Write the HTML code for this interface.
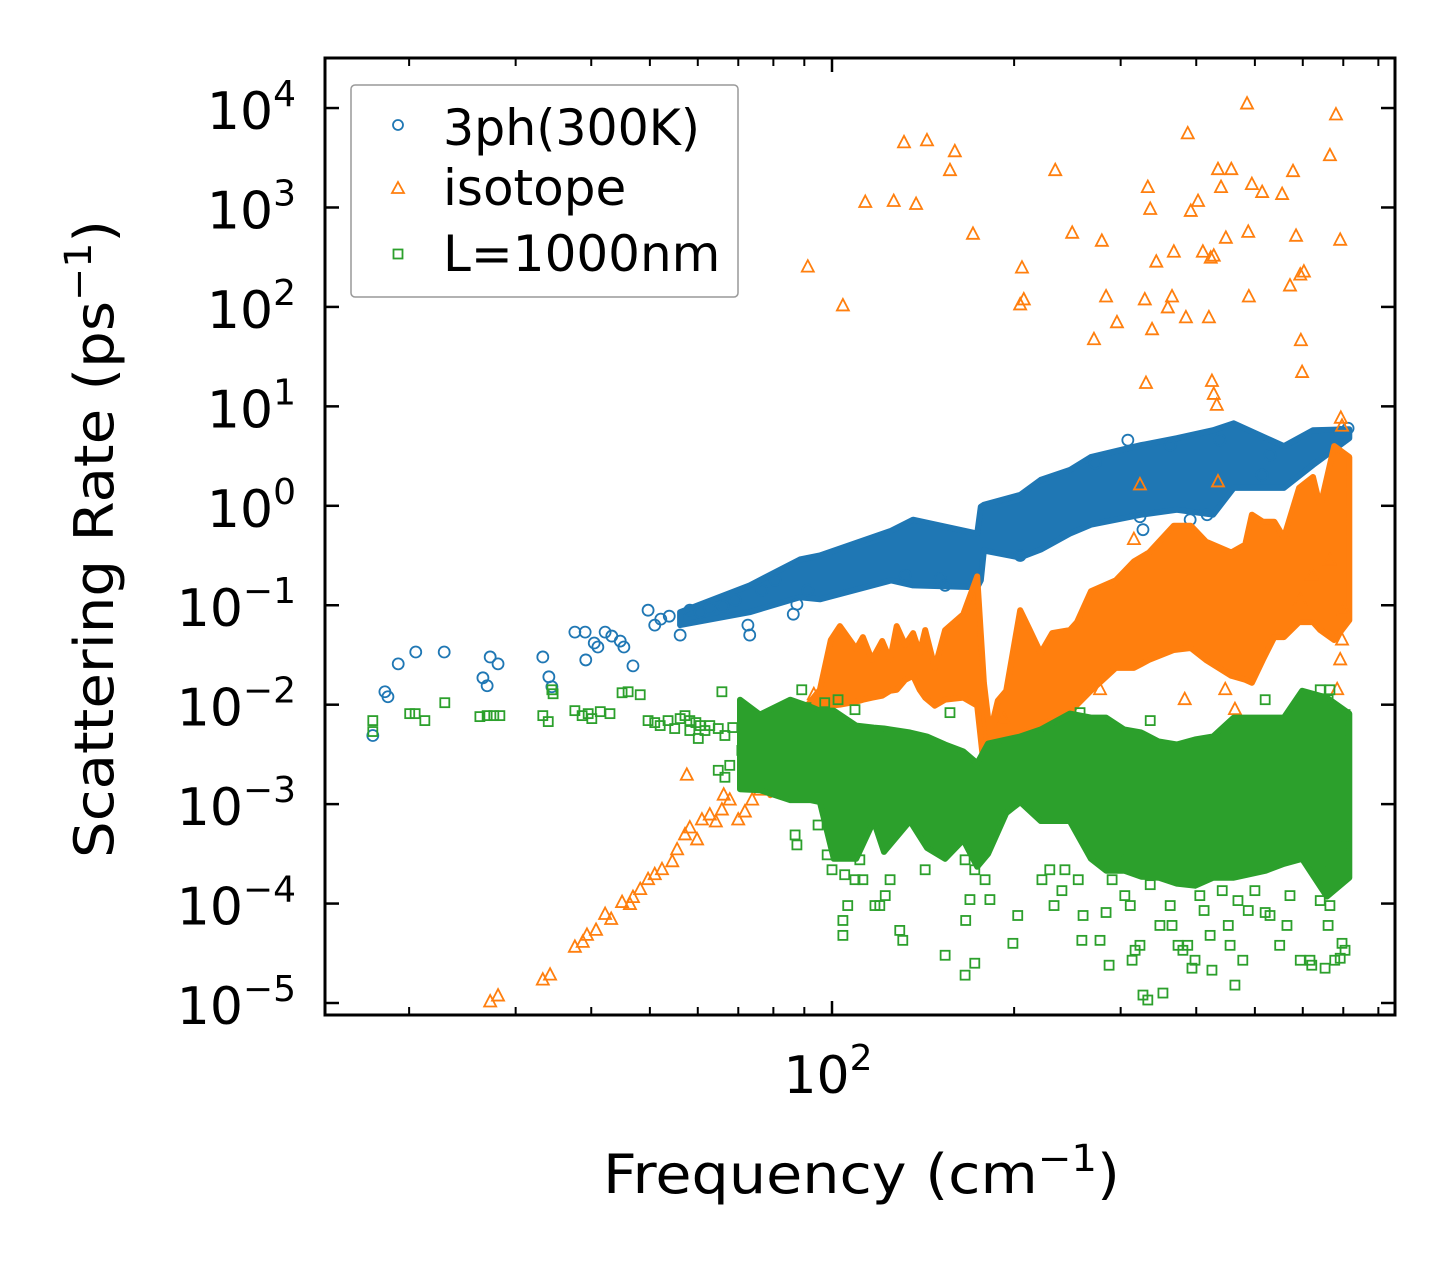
<!DOCTYPE html>
<html><head><meta charset="utf-8"><style>
html,body{margin:0;padding:0;background:#fff;}
svg{display:block;font-family:"DejaVu Sans","Liberation Sans",sans-serif;}
</style></head>
<body>
<svg id="chart" width="1455" height="1265" viewBox="0 0 1455 1265" xmlns="http://www.w3.org/2000/svg">
<rect x="0" y="0" width="1455" height="1265" fill="#fff"/>
<g id="bands"></g>
<g id="marks"></g>
<g id="axes"></g>
<text x="603" y="1193" font-size="54" textLength="517" lengthAdjust="spacingAndGlyphs">Frequency (cm<tspan dy="-22" font-size="37">−1</tspan><tspan dy="22">)</tspan></text>
<text transform="translate(113,858) rotate(-90)" font-size="54" textLength="638" lengthAdjust="spacingAndGlyphs">Scattering Rate (ps<tspan dy="-22" font-size="37">−1</tspan><tspan dy="22">)</tspan></text>
<g>
<rect x="351" y="85" width="387" height="212" rx="4" fill="#fff" fill-opacity="0.8" stroke="#999" stroke-width="1.5"/>
<circle cx="398" cy="125" r="5" fill="none" stroke="#1f77b4" stroke-width="1.8"/>
<text x="443" y="145" font-size="50" textLength="257" lengthAdjust="spacingAndGlyphs">3ph(300K)</text>
<polygon points="398,182 404,193 392,193" fill="none" stroke="#ff7f0e" stroke-width="1.8"/>
<text x="443" y="205" font-size="50">isotope</text>
<rect x="393.5" y="249.5" width="9" height="9" fill="none" stroke="#2ca02c" stroke-width="1.8"/>
<text x="443" y="271" font-size="50">L=1000nm</text>
</g>
</svg>
<script>
// ---- data (log10 of frequency in cm^-1, log10 of rate in ps^-1) ----
const yTickExps = [-5,-4,-3,-2,-1,0,1,2,3,4];
const xMajorTicks = [100];
const xMinorTicks = [20,30,40,50,60,70,80,90,200,300,400,500,600,700,800];

const blueBandLogF = [1.749,1.864,1.947,1.980,2.098,2.134,2.240,2.246,2.251,2.311,2.345,2.393,2.428,2.511,2.570,2.630,2.664,2.747,2.795,2.855];
const blueBandHi   = [-1.07,-0.80,-0.54,-0.50,-0.25,-0.14,-0.28,-0.01,0.01,0.11,0.26,0.36,0.49,0.61,0.68,0.76,0.83,0.60,0.76,0.77];
const blueBandLo   = [-1.20,-1.07,-0.92,-0.94,-0.75,-0.80,-0.82,-0.75,-0.45,-0.52,-0.44,-0.28,-0.19,-0.09,-0.04,-0.09,0.18,0.18,0.41,0.68];
const bluePts = [[1.241,-2.31],[1.261,-1.87],[1.266,-1.92],[1.283,-1.59],[1.312,-1.47],[1.359,-1.47],[1.423,-1.73],[1.430,-1.81],[1.435,-1.52],[1.448,-1.59],[1.522,-1.52],[1.532,-1.72],[1.537,-1.82],[1.575,-1.27],[1.592,-1.27],[1.593,-1.55],[1.607,-1.38],[1.613,-1.42],[1.625,-1.27],[1.636,-1.31],[1.650,-1.36],[1.656,-1.42],[1.671,-1.61],[1.696,-1.05],[1.707,-1.20],[1.717,-1.14],[1.731,-1.11],[1.749,-1.30],[1.765,-1.05],[1.782,-1.07],[1.798,-1.03],[1.820,-1.01],[1.840,-0.95],[1.861,-1.20],[1.864,-1.30],[1.884,-0.85],[1.906,-0.75],[1.936,-1.09],[1.942,-0.99],[1.960,-0.85],[2.121,-0.70],[2.179,-0.73],[2.187,-0.80],[2.311,-0.50],[2.509,-0.11],[2.514,-0.24],[2.592,-0.14],[2.620,-0.09],[2.711,0.31],[2.724,0.51],[2.641,0.66],[2.559,0.61],[2.489,0.66],[2.435,0.43],[2.840,0.74],[2.853,0.78]];

const orangeBandLogF = [1.898,1.947,1.980,1.998,2.013,2.040,2.051,2.066,2.083,2.096,2.107,2.121,2.134,2.145,2.154,2.170,2.187,2.217,2.240,2.251,2.261,2.274,2.288,2.311,2.327,2.345,2.364,2.393,2.405,2.428,2.469,2.499,2.524,2.565,2.593,2.618,2.660,2.683,2.694,2.712,2.731,2.747,2.772,2.795,2.807,2.830,2.855];
const orangeBandHi = [-2.66,-2.10,-1.85,-1.35,-1.21,-1.44,-1.32,-1.55,-1.36,-1.55,-1.21,-1.40,-1.28,-1.48,-1.25,-1.63,-1.25,-1.09,-0.71,-1.78,-2.29,-1.96,-1.86,-1.05,-1.25,-1.48,-1.28,-1.25,-1.17,-0.86,-0.75,-0.56,-0.47,-0.20,-0.20,-0.36,-0.47,-0.39,-0.09,-0.16,-0.16,-0.32,0.18,0.29,-0.01,0.60,0.49];
const orangeBandLo = [-2.91,-2.70,-2.25,-2.01,-2.00,-1.97,-1.95,-1.93,-1.91,-1.86,-1.85,-1.75,-1.71,-1.85,-1.93,-2.01,-1.95,-1.93,-2.01,-2.63,-2.56,-2.52,-2.46,-2.32,-2.25,-2.20,-2.15,-2.09,-2.00,-1.86,-1.63,-1.63,-1.55,-1.45,-1.43,-1.55,-1.71,-1.75,-1.78,-1.55,-1.32,-1.32,-1.17,-1.17,-1.25,-1.35,-1.15];
const orangePts = [[1.960,2.40],[2.018,2.01],[2.055,3.05],[2.102,3.06],[2.119,3.65],[2.139,3.03],[2.157,3.67],[2.195,3.37],[2.203,3.56],[2.233,2.73],[2.314,2.39],[2.311,2.02],[2.317,2.07],[2.369,3.37],[2.397,2.74],[2.433,1.67],[2.446,2.66],[2.453,2.10],[2.471,1.84],[2.517,2.07],[2.522,3.20],[2.526,2.98],[2.529,1.77],[2.536,2.45],[2.555,1.99],[2.562,2.10],[2.565,2.55],[2.585,1.89],[2.588,3.74],[2.593,2.96],[2.605,3.06],[2.613,2.55],[2.623,1.89],[2.626,2.49],[2.631,2.51],[2.638,3.38],[2.643,3.20],[2.651,2.69],[2.660,3.38],[2.686,4.04],[2.688,2.75],[2.689,2.10],[2.694,3.23],[2.711,3.15],[2.744,3.13],[2.757,2.21],[2.762,3.36],[2.767,2.71],[2.774,2.32],[2.780,2.35],[2.775,1.66],[2.777,1.34],[2.823,3.52],[2.833,3.93],[2.840,2.67],[2.519,1.23],[2.628,1.25],[2.631,1.12],[2.636,1.01],[2.638,0.24],[2.841,0.88],[2.843,0.80],
[1.435,-4.99],[1.448,-4.93],[1.522,-4.77],[1.534,-4.72],[1.575,-4.44],[1.588,-4.39],[1.595,-4.32],[1.610,-4.27],[1.625,-4.11],[1.635,-4.16],[1.653,-3.99],[1.666,-4.01],[1.671,-3.94],[1.683,-3.86],[1.696,-3.76],[1.707,-3.71],[1.719,-3.66],[1.736,-3.58],[1.744,-3.46],[1.757,-3.31],[1.765,-3.24],[1.777,-3.36],[1.785,-3.16],[1.798,-3.11],[1.808,-3.18],[1.818,-3.06],[1.831,-2.96],[1.845,-3.16],[1.856,-3.08],[1.868,-2.96],[1.881,-2.86],[1.889,-2.74],[1.760,-2.71],[1.821,-2.91],[1.917,-2.51],[1.931,-2.41],[1.944,-2.34],[1.955,-2.16],[1.964,-2.04],[1.970,-1.90],
[2.835,-1.85],[2.840,-1.55],[2.843,-1.35],[2.846,-1.05],[2.823,-0.55],[2.793,-0.70],[2.774,-0.95],[2.443,-1.85],[2.583,-1.95],[2.650,-1.85],[2.666,-2.05],[2.284,-2.15],[2.499,-0.34],[2.509,0.21]];

const greenBandLogF = [1.848,1.881,1.931,1.964,1.980,2.003,2.040,2.069,2.086,2.129,2.157,2.187,2.217,2.240,2.258,2.288,2.311,2.345,2.393,2.428,2.453,2.483,2.511,2.540,2.570,2.600,2.630,2.664,2.717,2.747,2.777,2.818,2.855];
const greenBandHi = [-1.95,-2.10,-1.95,-2.02,-2.06,-2.06,-2.21,-2.23,-2.24,-2.28,-2.32,-2.40,-2.47,-2.59,-2.39,-2.35,-2.32,-2.25,-2.09,-2.13,-2.13,-2.25,-2.28,-2.37,-2.40,-2.35,-2.32,-2.13,-2.13,-2.13,-1.86,-1.93,-2.09];
const greenBandLo = [-2.85,-2.86,-2.96,-2.96,-2.98,-3.55,-3.55,-3.17,-3.48,-3.17,-3.44,-3.55,-3.36,-3.63,-3.50,-3.09,-2.98,-3.17,-3.17,-3.55,-3.67,-3.67,-3.73,-3.74,-3.80,-3.82,-3.74,-3.74,-3.67,-3.60,-3.55,-3.93,-3.74];
const greenPts = [[1.241,-2.16],[1.241,-2.27],[1.302,-2.09],[1.311,-2.09],[1.327,-2.16],[1.360,-1.98],[1.418,-2.12],[1.430,-2.11],[1.441,-2.11],[1.451,-2.11],[1.522,-2.11],[1.531,-2.17],[1.537,-1.85],[1.539,-1.89],[1.575,-2.06],[1.587,-2.11],[1.597,-2.09],[1.603,-2.14],[1.617,-2.07],[1.633,-2.09],[1.653,-1.88],[1.663,-1.87],[1.683,-1.90],[1.696,-2.16],[1.707,-2.18],[1.716,-2.21],[1.729,-2.16],[1.740,-2.24],[1.749,-2.14],[1.757,-2.11],[1.765,-2.16],[1.775,-2.18],[1.782,-2.21],[1.790,-2.26],[1.798,-2.21],[1.812,-2.24],[1.818,-1.87],[1.823,-2.31],[1.836,-2.23],[1.812,-2.66],[1.823,-2.73],[1.831,-2.61],[1.765,-2.26],[1.779,-2.34],[1.851,-2.46],
[1.939,-3.31],[1.942,-3.41],[1.977,-3.21],[1.992,-3.51],[2.000,-3.66],[2.021,-3.71],[2.018,-4.32],[2.026,-4.02],[2.018,-4.17],[2.038,-3.76],[2.046,-3.56],[2.051,-3.76],[2.071,-4.02],[2.079,-4.02],[2.088,-3.92],[2.096,-3.76],[2.112,-4.27],[2.117,-4.37],[2.154,-3.66],[2.187,-4.52],[2.220,-3.56],[2.228,-3.96],[2.221,-4.17],[2.220,-4.72],[2.236,-4.60],[2.236,-3.66],[2.253,-3.76],[2.261,-3.96],[2.299,-4.40],[2.307,-4.12],[2.347,-3.76],[2.360,-3.66],[2.367,-4.02],[2.380,-3.87],[2.385,-3.66],[2.407,-3.76],[2.413,-4.37],[2.415,-4.12],[2.443,-4.37],[2.453,-4.09],[2.458,-4.62],[2.463,-3.76],[2.473,-3.56],[2.484,-3.92],[2.493,-4.02],[2.496,-4.57],[2.501,-4.47],[2.509,-4.42],[2.514,-4.92],[2.522,-4.97],[2.526,-3.81],[2.542,-4.22],[2.547,-4.90],[2.559,-4.02],[2.562,-4.22],[2.572,-4.42],[2.580,-4.47],[2.588,-4.42],[2.595,-4.65],[2.600,-4.57],[2.608,-3.92],[2.615,-4.07],[2.625,-4.32],[2.628,-4.67],[2.645,-3.87],[2.655,-4.22],[2.658,-4.42],[2.666,-4.82],[2.671,-3.97],[2.679,-4.57],[2.688,-4.07],[2.699,-3.87],[2.716,-4.09],[2.724,-4.12],[2.740,-4.42],[2.752,-4.22],[2.757,-3.92],[2.774,-4.57],[2.790,-4.57],[2.793,-4.62],[2.807,-3.97],[2.810,-3.66],[2.815,-4.65],[2.820,-4.22],[2.823,-4.02],[2.831,-4.57],[2.840,-4.55],[2.843,-4.40],[2.848,-4.47],[2.848,-3.41],
[1.950,-1.85],[1.957,-2.03],[1.988,-1.98],[2.010,-1.95],[2.038,-2.05],[2.195,-2.08],[2.410,-2.08],[2.443,-2.16],[2.526,-2.16],[2.716,-1.95],[2.807,-1.85],[2.823,-1.85],[2.820,-1.95],[2.848,-2.10],[2.840,-2.26]];

// ---- axis functions ----
const PL = 325, PR = 1395, PT = 58, PB = 1015;
function xPos(logF){ return 832 + (logF - 2) * 605; }
function yPos(logR){ return 505.8 - logR * 99.44; }
const NS = 'http://www.w3.org/2000/svg';
function mk(tag, attrs, parent){ const e = document.createElementNS(NS, tag); for (const k in attrs) e.setAttribute(k, attrs[k]); parent.appendChild(e); return e; }

const bands = document.getElementById('bands');
const marks = document.getElementById('marks');
const axes = document.getElementById('axes');
const colors = {blue:'#1f77b4', orange:'#ff7f0e', green:'#2ca02c'};

function drawBand(lf, hi, lo, color, name){
  const pts = [];
  for (let i = 0; i < lf.length; i++) pts.push(xPos(lf[i]).toFixed(1) + ',' + yPos(hi[i]).toFixed(1));
  for (let i = lf.length - 1; i >= 0; i--) pts.push(xPos(lf[i]).toFixed(1) + ',' + yPos(lo[i]).toFixed(1));
  const p = mk('polygon', {points: pts.join(' '), fill: color, stroke: color, 'stroke-width': 6, 'stroke-linejoin': 'round'}, bands);
  
  
  return p;
}
function drawCircles(pts, g){
  for (const d of pts){
    const c = mk('circle', {cx: xPos(d[0]), cy: yPos(d[1]), r: 5.5, fill: 'none', stroke: colors.blue, 'stroke-width': 1.8}, g);
    
    
  }
}
function drawTriangles(pts, g){
  for (const d of pts){
    const x = xPos(d[0]), y = yPos(d[1]);
    const t = mk('polygon', {points: `${x},${y-7} ${x+6},${y+4.5} ${x-6},${y+4.5}`, fill: 'none', stroke: colors.orange, 'stroke-width': 1.8}, g);
    
    
  }
}
function drawSquares(pts, g){
  for (const d of pts){
    const x = xPos(d[0]), y = yPos(d[1]);
    const s = mk('rect', {x: x-4.5, y: y-4.5, width: 9, height: 9, fill: 'none', stroke: colors.green, 'stroke-width': 1.8}, g);
    
    
  }
}

// draw in matplotlib order: blue, orange, green
drawBand(blueBandLogF, blueBandHi, blueBandLo, colors.blue, 'band-3ph');
const gB = mk('g', {}, bands);


drawCircles(bluePts, gB);
drawBand(orangeBandLogF, orangeBandHi, orangeBandLo, colors.orange, 'band-isotope');
const gO = mk('g', {}, bands);


drawTriangles(orangePts, gO);
drawBand(greenBandLogF, greenBandHi, greenBandLo, colors.green, 'band-boundary');
const gG = mk('g', {}, bands);


drawSquares(greenPts, gG);

// ---- axes frame and ticks ----
const frame = mk('rect', {x: PL, y: PT, width: PR-PL, height: PB-PT, fill: 'none', stroke: '#000', 'stroke-width': 3}, axes);


for (const e of yTickExps){
  const y = yPos(e);
  const l1 = mk('line', {x1: PL, x2: PL+14, y1: y, y2: y, stroke: '#000', 'stroke-width': 2.5}, axes);
  
  
  const l2 = mk('line', {x1: PR, x2: PR-14, y1: y, y2: y, stroke: '#000', 'stroke-width': 2.5}, axes);
  
  
  const t = mk('text', {x: 296, y: y + 21, 'font-size': 52, 'text-anchor': 'end'}, axes);
  
  
  const sup = e < 0 ? '−' + (-e) : String(e);
  t.innerHTML = '10<tspan dy="-23" font-size="36">' + sup + '</tspan>';
}
for (const v of xMajorTicks){
  const x = xPos(Math.log10(v));
  const a = mk('line', {x1: x, x2: x, y1: PB, y2: PB-14, stroke: '#000', 'stroke-width': 2.5}, axes);
  
  
  const b = mk('line', {x1: x, x2: x, y1: PT, y2: PT+14, stroke: '#000', 'stroke-width': 2.5}, axes);
  
  
  const t = mk('text', {x: x - 4, y: 1093, 'font-size': 52, 'text-anchor': 'middle'}, axes);
  
  
  t.innerHTML = '10<tspan dy="-23" font-size="36">' + Math.round(Math.log10(v)) + '</tspan>';
}
for (const v of xMinorTicks){
  const x = xPos(Math.log10(v));
  const a = mk('line', {x1: x, x2: x, y1: PB, y2: PB-8, stroke: '#000', 'stroke-width': 2}, axes);
  
  
  const b = mk('line', {x1: x, x2: x, y1: PT, y2: PT+8, stroke: '#000', 'stroke-width': 2}, axes);
  
  
}
</script>
</body></html>
